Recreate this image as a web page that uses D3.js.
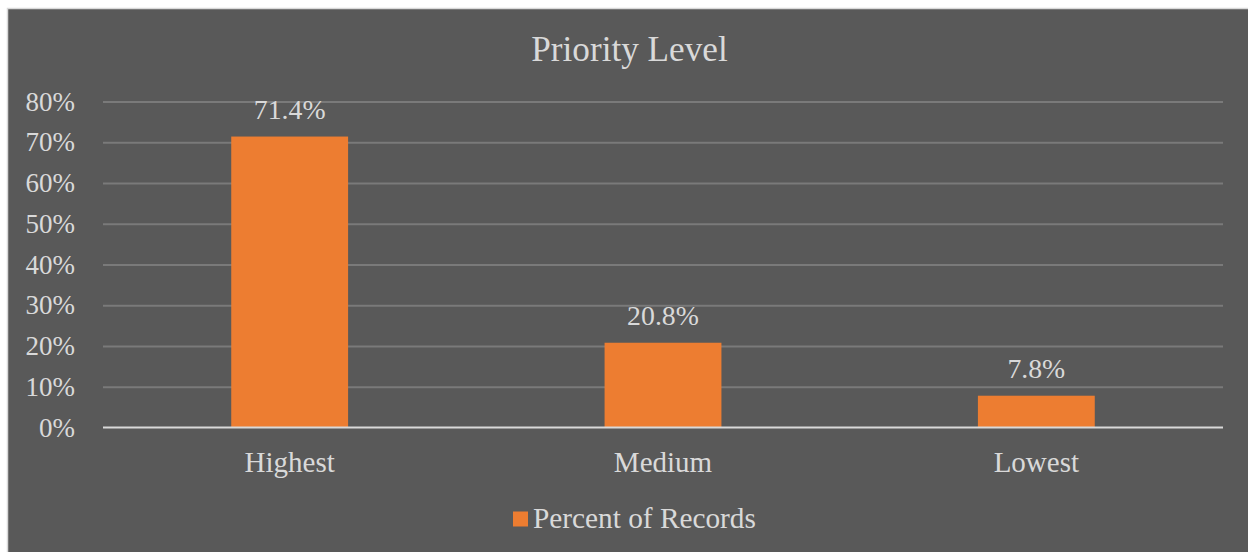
<!DOCTYPE html>
<html>
<head>
<meta charset="utf-8">
<script src="https://cdn.jsdelivr.net/npm/d3@7"></script>
<style>
  html, body { margin: 0; padding: 0; background: #ffffff; }
  svg { display: block; }
  text { font-family: "Liberation Serif", "Times New Roman", serif; fill: #d9d9d9; }
</style>
</head>
<body>
<svg id="chart" width="1248" height="552"></svg>
<script>
// Share of records by priority level
const categories = ["Highest", "Medium", "Lowest"];
const percentOfRecords = [71.4, 20.8, 7.8];
const yTicks = [0, 10, 20, 30, 40, 50, 60, 70, 80];
const chartTitle = "Priority Level";
const seriesName = "Percent of Records";

const svg = d3.select("#chart");
const W = 1248, H = 552;
const serif = '"Liberation Serif", "Times New Roman", serif';

// Chart area panel
svg.append("rect")
  .attr("x", 7.5).attr("y", 8.5)
  .attr("width", W).attr("height", H)
  .attr("fill", "#595959")
  .attr("stroke", "#d9d9d9")
  .attr("stroke-width", 1.5);

const plot = { left: 103, right: 1223, top: 101.5, bottom: 427.5 };

const x = d3.scaleBand()
  .domain(categories)
  .range([plot.left, plot.right])
  .paddingInner(0.687)
  .paddingOuter(0.687 / 2);

const y = d3.scaleLinear()
  .domain([0, 80])
  .range([plot.bottom, plot.top]);

// Gridlines
const grid = d3.axisLeft(y)
  .tickValues(yTicks.filter(d => d > 0))
  .tickSize(-(plot.right - plot.left))
  .tickFormat("");
svg.append("g")
  .attr("transform", `translate(${plot.left},0)`)
  .call(grid)
  .call(g => g.select(".domain").remove())
  .call(g => g.selectAll("line").attr("stroke", "#7a7a7a").attr("stroke-width", 2));

// Y tick labels
const yAxis = d3.axisLeft(y)
  .tickValues(yTicks)
  .tickSize(0)
  .tickPadding(0)
  .tickFormat(d => d + "%");
svg.append("g")
  .attr("transform", `translate(75,0)`)
  .call(yAxis)
  .call(g => g.select(".domain").remove())
  .call(g => g.selectAll("text")
    .attr("font-size", 27)
    .attr("dy", "0.32em")
    .style("fill", "#d9d9d9")
    .style("font-family", serif));

// Bars
svg.append("g").selectAll("rect")
  .data(percentOfRecords)
  .join("rect")
  .attr("x", (d, i) => x(categories[i]))
  .attr("y", d => y(d))
  .attr("width", x.bandwidth())
  .attr("height", d => y(0) - y(d))
  .attr("fill", "#ed7d31");

// Category axis line and labels
const xAxis = d3.axisBottom(x).tickSize(0).tickPadding(0);
svg.append("g")
  .attr("transform", `translate(0,${plot.bottom})`)
  .call(xAxis)
  .call(g => g.select(".domain")
    .attr("d", `M${plot.left},0H${plot.right}`)
    .attr("stroke", "#d9d9d9").attr("stroke-width", 2))
  .call(g => g.selectAll("text")
    .attr("y", 44)
    .attr("dy", 0)
    .attr("font-size", 29)
    .style("fill", "#d9d9d9")
    .style("font-family", serif));

// Data labels
svg.append("g").selectAll("text")
  .data(percentOfRecords)
  .join("text")
  .attr("x", (d, i) => x(categories[i]) + x.bandwidth() / 2)
  .attr("y", d => y(d) - 17.5)
  .attr("text-anchor", "middle")
  .attr("font-size", 27.8)
  .text(d => d.toFixed(1) + "%");

// Title
svg.append("text")
  .attr("x", 629.5)
  .attr("y", 60.5)
  .attr("text-anchor", "middle")
  .attr("font-size", 35.2)
  .text(chartTitle);

// Legend
const legend = svg.append("g");
legend.append("rect")
  .attr("x", 513).attr("y", 511.5)
  .attr("width", 15).attr("height", 15)
  .attr("fill", "#ed7d31");
legend.append("text")
  .attr("x", 533).attr("y", 527.5)
  .attr("font-size", 29.3)
  .text(seriesName);
</script>
</body>
</html>
